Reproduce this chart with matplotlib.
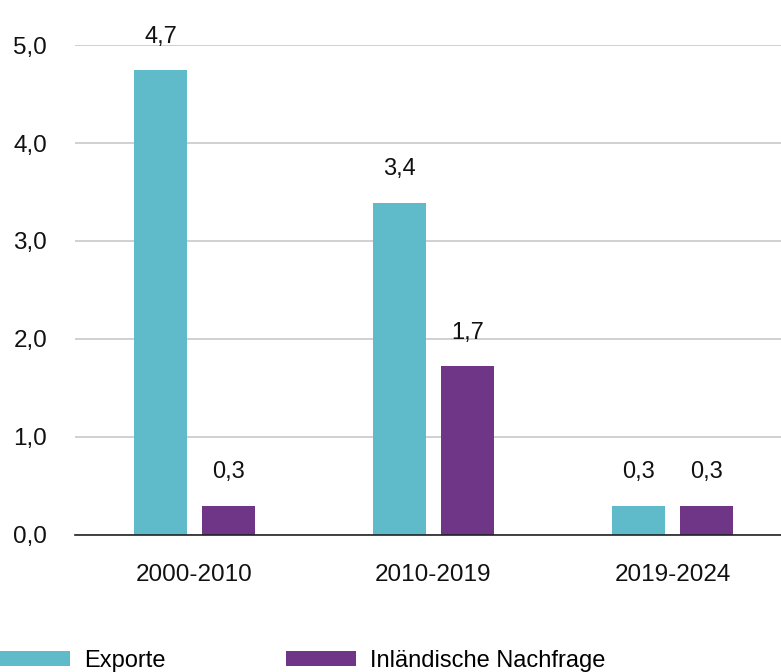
import matplotlib.pyplot as plt
import numpy as np

periods = ["2000-2010", "2010-2019", "2019-2024"]
exporte = [4.74, 3.39, 0.30]
nachfrage = [0.30, 1.72, 0.30]
exporte_lbl = ["4,7", "3,4", "0,3"]
nachfrage_lbl = ["0,3", "1,7", "0,3"]
yticks = [0, 1, 2, 3, 4, 5]
ytick_labels = ["0,0", "1,0", "2,0", "3,0", "4,0", "5,0"]

teal = "#5FBBC9"
purple = "#6F3587"

plt.rcParams["font.family"] = ["Liberation Sans", "DejaVu Sans"]

fig = plt.figure(figsize=(7.81, 6.72), dpi=100)
ax = fig.add_axes([0.096, 0.204, 0.904, 0.729])

x = np.arange(len(periods))
w = 0.222
off = 0.142
b1 = ax.bar(x - off, exporte, w, color=teal, label="Exporte", zorder=3)
b2 = ax.bar(x + off, nachfrage, w, color=purple, label="Inländische Nachfrage", zorder=3)

for bars, lbls in ((b1, exporte_lbl), (b2, nachfrage_lbl)):
    for rect, t in zip(bars, lbls):
        ax.annotate(t, (rect.get_x() + rect.get_width() / 2, rect.get_height()),
                    xytext=(0, 24), textcoords="offset points",
                    ha="center", va="center", fontsize=17, color="#111111")

ax.set_xlim(-0.5, 2.454)
ax.set_ylim(0, 5)
ax.set_yticks(yticks)
ax.set_yticklabels(ytick_labels)
ax.set_xticks(x)
ax.set_xticklabels(periods)
ax.tick_params(axis="both", length=0, labelsize=17.5, colors="#111111")
ax.tick_params(axis="x", pad=21)
ax.tick_params(axis="y", pad=20)
ax.grid(axis="y", color="#c8c8c8", linewidth=1.2, zorder=0)
for s in ("left", "right", "top"):
    ax.spines[s].set_visible(False)
ax.spines["bottom"].set_color("#222222")
ax.spines["bottom"].set_linewidth(1.2)
ax.spines["bottom"].set_zorder(4)

fig.legend(handles=[b1, b2], loc="lower left", bbox_to_anchor=(-0.027, -0.031),
           ncol=2, frameon=False, handlelength=2.97, handleheight=0.6,
           columnspacing=5.07, handletextpad=0.6,
           prop={"size": 17})

fig.savefig("out.png", dpi=100)
